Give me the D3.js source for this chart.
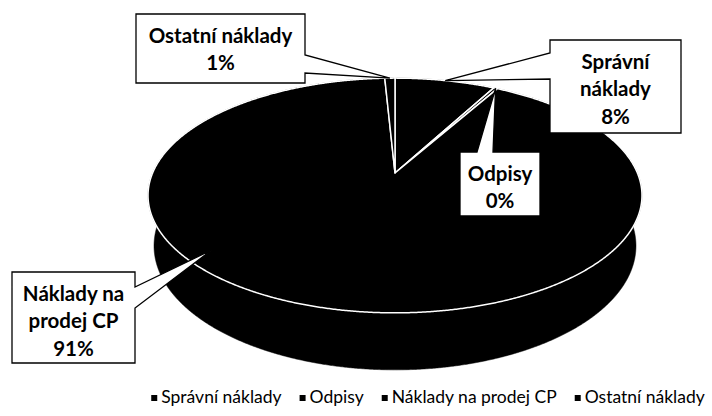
<!DOCTYPE html>
<html>
<head>
<meta charset="utf-8">
<script src="https://cdn.jsdelivr.net/npm/d3@7"></script>
<style>
  body { margin: 0; background: #fff; }
  text { font-family: Lato, "Open Sans", sans-serif; }
</style>
</head>
<body>
<svg id="chart" width="712" height="416"></svg>
<script>
// chart data
var categories = ["Správní náklady", "Odpisy", "Náklady na prodej CP", "Ostatní náklady"];
var values = [7.9, 0.3, 91.0, 0.8];
var labelLines = [["Správní", "náklady"], ["Odpisy"], ["Náklady na", "prodej CP"], ["Ostatní náklady"]];

// callout boxes: box corners, pointer side, pointer base, tip (angle in deg, radius)
var callouts = [
    {box: [550, 40, 681, 133], side: "left", base: [53, 79], tip: null, tipR: 1},
    {box: [460, 152, 540, 216], side: "top", base: [477, 493], tip: null, tipR: 1},
    {box: [12, 272, 135, 363], side: "right", base: [287, 308], tip: 228, tipR: 0.9},
    {box: [136, 14, 305, 83], side: "right", base: [55, 73], tip: null, tipR: 1}
];

var svg = d3.select("#chart");

// 3d view of the pie (perspective camera looking down)
var cx = 395, cy = 173, focal = 1119.4, dist = 4.618,
    tilt = 27.8 * Math.PI / 180, depth = 0.237;

function project(angle, r, level) {
    var X = r * Math.sin(angle), Z = -r * Math.cos(angle), Y = -level * depth;
    var yc = Y * Math.cos(tilt) - Z * Math.sin(tilt);
    var zc = dist - (Z * Math.cos(tilt) + Y * Math.sin(tilt));
    return [cx + focal * X / zc, cy - focal * yc / zc];
}

function arcPoints(a0, a1, level) {
    var n = Math.max(2, Math.ceil(Math.abs(a1 - a0) / 0.005));
    return d3.range(n + 1).map(function (i) {
        return project(a0 + (a1 - a0) * i / n, 1, level);
    });
}

var pie = d3.pie().sort(null).value(function (d) { return d; });
var arcs = pie(values);
var line = d3.line();
var total = d3.sum(values);

// side walls
svg.append("g").selectAll("path")
    .data(arcs)
    .enter().append("path")
    .attr("d", function (d) {
        var pts = arcPoints(d.startAngle, d.endAngle, 0)
            .concat(arcPoints(d.endAngle, d.startAngle, 1));
        return line(pts) + "Z";
    })
    .attr("fill", "#000")
    .attr("stroke", "#000")
    .attr("stroke-width", 0.5);

// top faces
svg.append("g").selectAll("path")
    .data(arcs)
    .enter().append("path")
    .attr("d", function (d) {
        var pts = [project(0, 0, 0)].concat(arcPoints(d.startAngle, d.endAngle, 0));
        return line(pts) + "Z";
    })
    .attr("fill", "#000")
    .attr("stroke", "#fff")
    .attr("stroke-width", 1.5)
    .attr("stroke-linejoin", "round");

// callouts
var labels = svg.append("g");
arcs.forEach(function (d, i) {
    var c = callouts[i];
    var ang = c.tip === null ? (d.startAngle + d.endAngle) / 2 : c.tip * Math.PI / 180;
    var t = project(ang, c.tipR, 0);
    var x0 = c.box[0], y0 = c.box[1], x1 = c.box[2], y1 = c.box[3];
    var p;
    if (c.side === "left") {
        p = [[x0, y0], [x1, y0], [x1, y1], [x0, y1], [x0, c.base[1]], t, [x0, c.base[0]]];
    } else if (c.side === "right") {
        p = [[x0, y0], [x1, y0], [x1, c.base[0]], t, [x1, c.base[1]], [x1, y1], [x0, y1]];
    } else {
        p = [[x0, y0], [c.base[0], y0], t, [c.base[1], y0], [x1, y0], [x1, y1], [x0, y1]];
    }
    labels.append("path")
        .attr("d", line(p) + "Z")
        .attr("fill", "#fff")
        .attr("stroke", "#000")
        .attr("stroke-width", 1.3);

    var lines = labelLines[i].concat([Math.round(d.data / total * 100) + "%"]);
    var txt = labels.append("text")
        .attr("text-anchor", "middle")
        .attr("font-weight", "bold")
        .attr("font-size", "20.5px")
        .attr("fill", "#000");
    lines.forEach(function (s, j) {
        txt.append("tspan")
            .attr("x", (x0 + x1) / 2)
            .attr("y", y0 + 28.5 + j * 27.5)
            .text(s);
    });
});

// legend
var legend = svg.append("g");
var items = legend.selectAll("g")
    .data(categories)
    .enter().append("g");
items.append("rect")
    .attr("width", 6).attr("height", 6)
    .attr("y", -8)
    .attr("fill", "#000");
items.append("text")
    .attr("x", 10)
    .attr("font-size", "17.5px")
    .attr("fill", "#000")
    .text(function (d) { return d; });
var offs = [], xpos = 0;
items.each(function () {
    var w = d3.select(this).select("text").node().getComputedTextLength() + 10;
    offs.push(xpos);
    xpos += w + 18;
});
var startX = 428 - (xpos - 18) / 2;
items.attr("transform", function (d, i) {
    return "translate(" + (startX + offs[i]) + ",403)";
});
</script>
</body>
</html>
